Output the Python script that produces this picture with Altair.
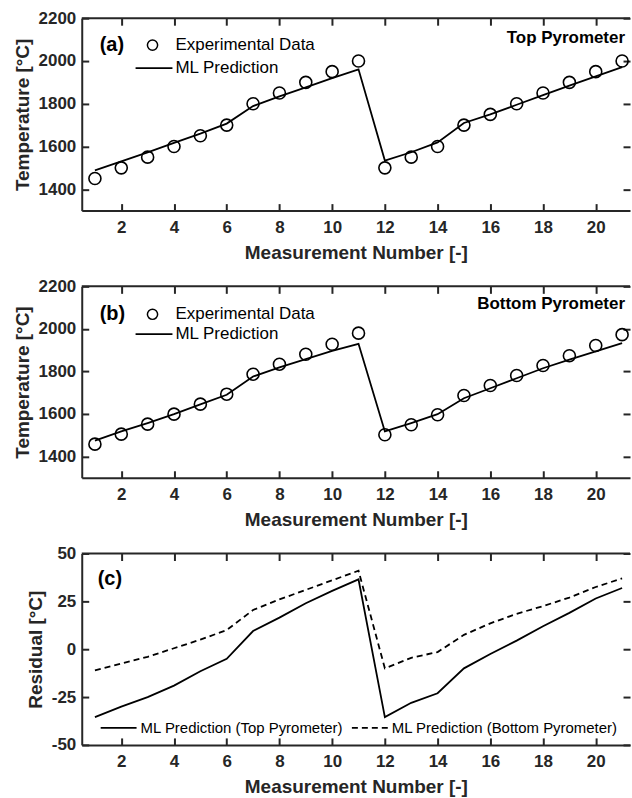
import altair as alt
import pandas as pd

# ---------------- data ----------------
meas = list(range(1, 22))
exp_top = [1450, 1500, 1550, 1600, 1650, 1700, 1800, 1850, 1900, 1950, 2000,
           1500, 1550, 1600, 1700, 1750, 1800, 1850, 1900, 1950, 2000]
pred_top = [1488, 1530, 1572, 1617, 1660, 1707, 1789, 1834, 1876, 1920, 1961,
            1534, 1573, 1619, 1710, 1750, 1795, 1840, 1885, 1928, 1971]
exp_bot = [1458, 1505, 1552, 1599, 1646, 1693, 1787, 1834, 1881, 1928, 1980,
           1502, 1549, 1596, 1687, 1734, 1781, 1828, 1874, 1922, 1973]
pred_bot = [1475, 1518, 1557, 1599, 1645, 1690, 1776, 1819, 1858, 1897, 1930,
            1518, 1557, 1599, 1674, 1721, 1768, 1815, 1855, 1894, 1933]
res_top = [-35.5, -30, -25, -19, -11.5, -5, 9.5, 16.5, 24, 30.5, 36.5,
           -35.5, -28, -23, -10, -2.5, 4.5, 12, 19, 26.5, 32]
res_bot = [-11, -7.5, -4, 0.5, 5, 10, 20.5, 26, 31, 36, 41,
           -10, -4.5, -1.5, 7.5, 13.5, 18.5, 22.5, 27, 32.5, 37]

x_ticks = [2, 4, 6, 8, 10, 12, 14, 16, 18, 20]
temp_ticks = [1400, 1600, 1800, 2000, 2200]
res_ticks = [-50, -25, 0, 25, 50]

x_title = "Measurement Number [-]"
temp_title = "Temperature [°C]"
res_title = "Residual [°C]"

# ---------------- style ----------------
W = 550
AX = "#262626"
FONT = "Liberation Sans"
INWARD = {"expr": "-7"}  # negative tick length given as an expression -> ticks point inward
LBL = "'' + datum.value"

xscale = alt.Scale(domain=[0.5, 21.3], nice=False, zero=False)


def main_axis(values, title, orient):
    return alt.Axis(values=values, title=title, labelExpr=LBL, orient=orient,
                    ticks=True, tickSize=INWARD, tickWidth=2, tickColor=AX)


def tick_axis(values, orient):
    return alt.Axis(values=values, orient=orient, ticks=True, tickSize=INWARD,
                    tickWidth=2, tickColor=AX, labels=False, domain=False, title="")


def one(text):
    return alt.Chart(pd.DataFrame({"t": [text]}))


def label(text, x, y, size, bold=False, align="left"):
    return one(text).mark_text(
        text=text, font=FONT, fontSize=size, fontWeight="bold" if bold else "normal",
        color="black", align=align, baseline="middle"
    ).encode(x=alt.value(x), y=alt.value(y))


def topline():
    return one("").mark_rule(color=AX, strokeWidth=2).encode(
        x=alt.value(0), x2=alt.value(W), y=alt.value(0))


def temp_panel(exp, pred, tag, name, rows, name_y, H):
    yscale = alt.Scale(domain=[1300, 2200], nice=False, zero=False)
    df = pd.DataFrame({"x": meas, "y": exp, "p": pred})
    base = alt.Chart(df)
    line = base.mark_line(color="black", strokeWidth=1.8).encode(
        x=alt.X("x:Q", scale=xscale, axis=main_axis(x_ticks, x_title, "bottom")),
        y=alt.Y("p:Q", scale=yscale, axis=main_axis(temp_ticks, temp_title, "left")))
    pts = base.mark_point(shape="circle", filled=False, size=145, color="black",
                          strokeWidth=1.6, opacity=1).encode(
        x=alt.X("x:Q", scale=xscale, axis=tick_axis(x_ticks, "top")),
        y=alt.Y("y:Q", scale=yscale, axis=tick_axis(temp_ticks, "right")))
    r1, r2 = rows
    leg = [
        label(tag, 18, r1, 20, bold=True),
        one("o").mark_point(shape="circle", filled=False, size=105, color="black",
                            strokeWidth=1.5, opacity=1).encode(x=alt.value(71), y=alt.value(r1)),
        label("Experimental Data", 94, r1, 17),
        one("l").mark_rule(color="black", strokeWidth=1.8).encode(
            x=alt.value(54), x2=alt.value(91), y=alt.value(r2)),
        label("ML Prediction", 94, r2, 17),
        label(name, 545, name_y, 17, bold=True, align="right"),
    ]
    return alt.layer(line, pts, topline(), *leg).resolve_axis(
        x="independent", y="independent").properties(width=W, height=H)


def res_panel(H):
    yscale = alt.Scale(domain=[-50, 50], nice=False, zero=False)
    df = pd.DataFrame({"x": meas, "t": res_top, "b": res_bot})
    base = alt.Chart(df)
    solid = base.mark_line(color="black", strokeWidth=1.8).encode(
        x=alt.X("x:Q", scale=xscale, axis=main_axis(x_ticks, x_title, "bottom")),
        y=alt.Y("t:Q", scale=yscale, axis=main_axis(res_ticks, res_title, "left")))
    dashed = base.mark_line(color="black", strokeWidth=1.8, strokeDash=[6, 4]).encode(
        x=alt.X("x:Q", scale=xscale, axis=tick_axis(x_ticks, "top")),
        y=alt.Y("b:Q", scale=yscale, axis=tick_axis(res_ticks, "right")))
    ly = H - 17
    leg = [
        label("(c)", 16, 26, 20, bold=True),
        one("s").mark_rule(color="black", strokeWidth=1.8).encode(
            x=alt.value(19), x2=alt.value(55), y=alt.value(ly)),
        label("ML Prediction (Top Pyrometer)", 59, ly, 15),
        one("d").mark_rule(color="black", strokeWidth=1.8, strokeDash=[6, 4]).encode(
            x=alt.value(271), x2=alt.value(307), y=alt.value(ly)),
        label("ML Prediction (Bottom Pyrometer)", 311, ly, 15),
    ]
    return alt.layer(solid, dashed, topline(), *leg).resolve_axis(
        x="independent", y="independent").properties(width=W, height=H)


pa = temp_panel(exp_top, pred_top, "(a)", "Top Pyrometer", (27, 50), 20, 193)
pb = temp_panel(exp_bot, pred_bot, "(b)", "Bottom Pyrometer", (28, 48), 18, 192)
pc = res_panel(192)

chart = alt.vconcat(pa, pb, pc, spacing=15).properties(
    padding={"left": 13, "top": 8, "right": 0, "bottom": 0}
).configure_axis(
    labelFont=FONT, titleFont=FONT, labelFontWeight="bold", titleFontWeight="bold",
    labelFontSize=17, titleFontSize=19, labelColor=AX, titleColor=AX,
    domainColor=AX, domainWidth=2, grid=False,
).configure_axisX(labelPadding=16, titlePadding=8).configure_axisY(
    labelPadding=13, titlePadding=6
).configure_view(stroke=None)

chart.save("out.html", embed_options={"renderer": "svg", "actions": False})
